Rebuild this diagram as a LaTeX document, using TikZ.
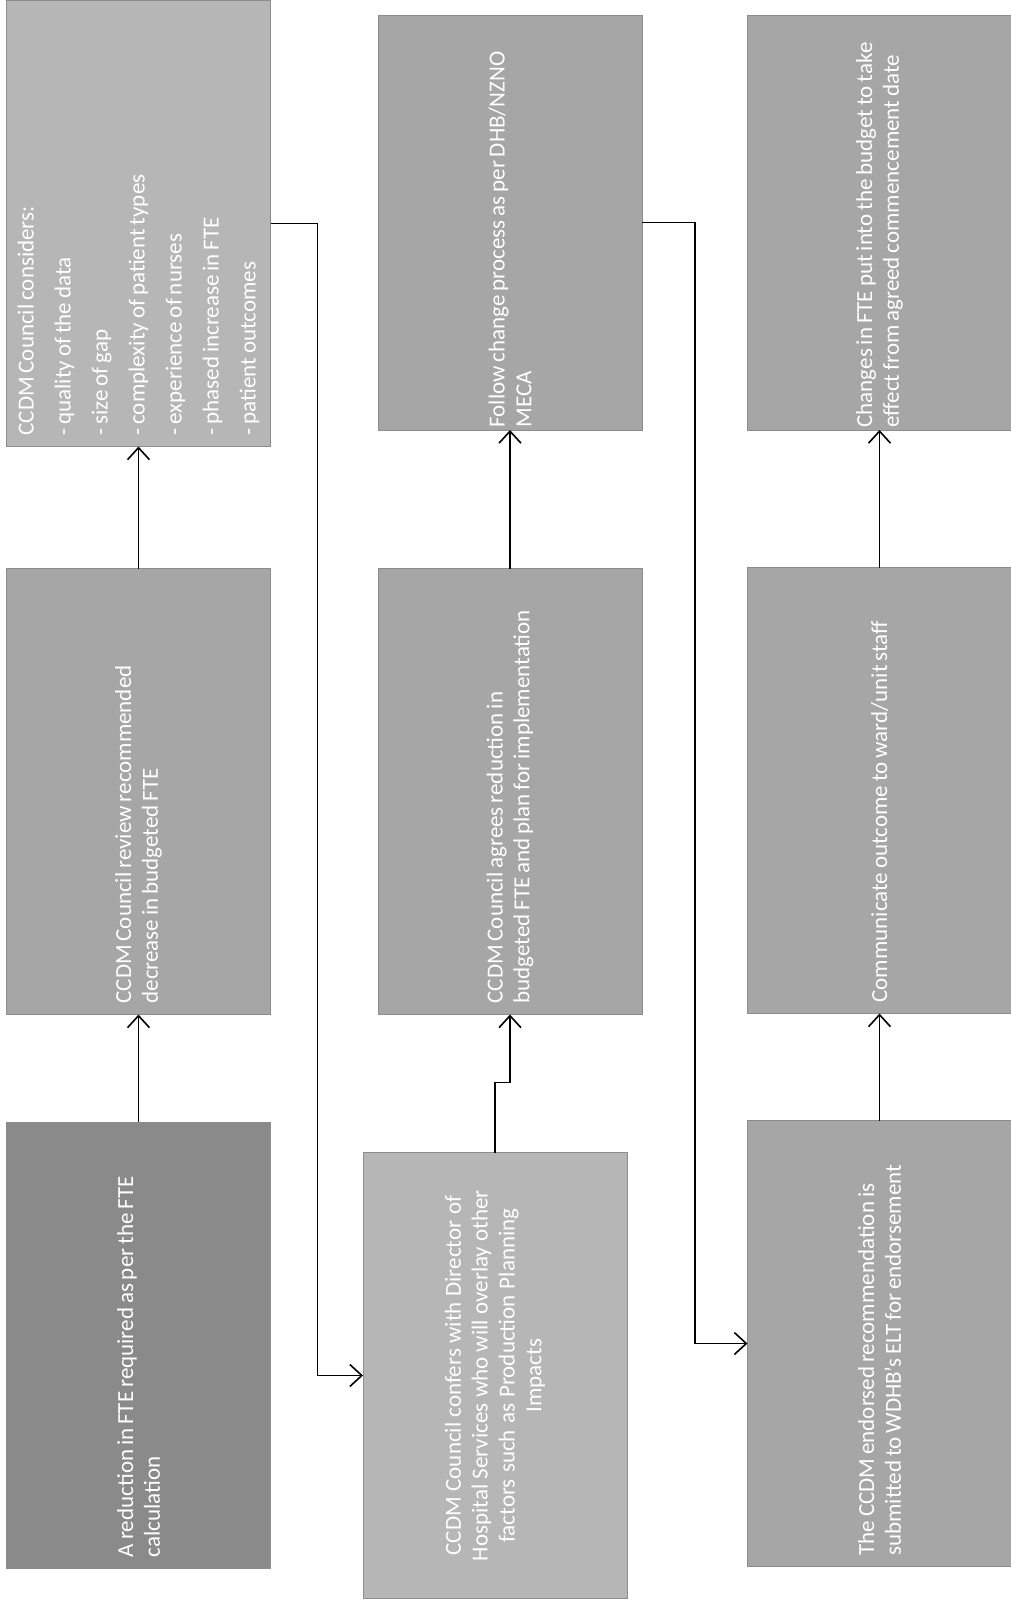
\documentclass[tikz,border=0pt]{standalone}
\usepackage{fontspec}
\setmainfont{Carlito}
\usepackage{tikz}
\usetikzlibrary{arrows.meta}
\definecolor{FTEDark}{HTML}{8A8A8A}
\definecolor{FTEMid}{HTML}{A6A6A6}
\definecolor{FTELight}{HTML}{B6B6B6}
\newcommand{\ftetight}{\spaceskip=0.17em plus 0.1em\relax}
\tikzset{
  ftebox/.style={
    rectangle,
    rotate=90,
    draw=black!45,
    line width=0.4pt,
    fill=FTEMid,
    text=white,
    align=left,
    inner sep=0pt,
    outer sep=0pt,
    font=\fontsize{11.5}{13.4}\selectfont,
    execute at begin node=\ftetight,
    minimum width=223pt,
    minimum height=132pt,
    text width=212pt
  },
  ftedark/.style={ftebox,fill=FTEDark},
  ftelight/.style={ftebox,fill=FTELight},
  fteshort/.style={minimum width=207.5pt,text width=205pt},
  ftearrow/.style={-{Straight Barb[length=6pt,width=11pt,line width=0.8pt]},line width=0.9pt,draw=black},
}
\begin{document}
\begin{tikzpicture}[x=0.5pt,y=-0.5pt]
  \useasboundingbox (0,0) rectangle (1011,1601);

  % left column
  \node[ftedark] (reduce) at (138.5,1345)
    {A reduction in FTE required as per the FTE\\calculation};
  \node[ftebox] (review) at (138.5,791.5)
    {CCDM Council review recommended\\decrease in budgeted FTE};
  \node[ftelight,font=\fontsize{11.5}{18.5}\selectfont] (consider) at (138.5,223.5)
    {CCDM Council considers:\\- quality of the data\\- size of gap\\- complexity of patient types\\- experience of nurses\\- phased increase in FTE\\- patient outcomes};

  % middle column
  \node[ftelight,align=center] (confer) at (495,1375.5)
    {CCDM Council confers with Director of\\Hospital Services who will overlay other\\factors such as Production Planning\\Impacts};
  \node[ftebox] (agree) at (510,791.5)
    {CCDM Council agrees reduction in\\budgeted FTE and plan for implementation};
  \node[ftebox,fteshort] (change) at (510,222.5)
    {Follow change process as per DHB/NZNO\\MECA};

  % right column
  \node[ftebox] (submit) at (879.5,1343.5)
    {The CCDM endorsed recommendation is\\submitted to WDHB's ELT for endorsement};
  \node[ftebox] (inform) at (879.5,790.5)
    {Communicate outcome to ward/unit staff};
  \node[ftebox,fteshort] (budget) at (879.5,222.5)
    {Changes in FTE put into the budget to take\\effect from agreed commencement date};

  \draw[ftearrow] (reduce.east) -- (review.west);
  \draw[ftearrow] (review.east) -- (consider.west);
  \draw[ftearrow] (consider.south) -- ++(47,0) |- (confer.north);
  \draw[ftearrow] (confer.east) -- ++(0,-70) -| (agree.west);
  \draw[ftearrow] (agree.east) -- (change.west);
  \draw[ftearrow] (change.south) -- ++(53,0) |- (submit.north);
  \draw[ftearrow] (submit.east) -- (inform.west);
  \draw[ftearrow] (inform.east) -- (budget.west);
\end{tikzpicture}
\end{document}
